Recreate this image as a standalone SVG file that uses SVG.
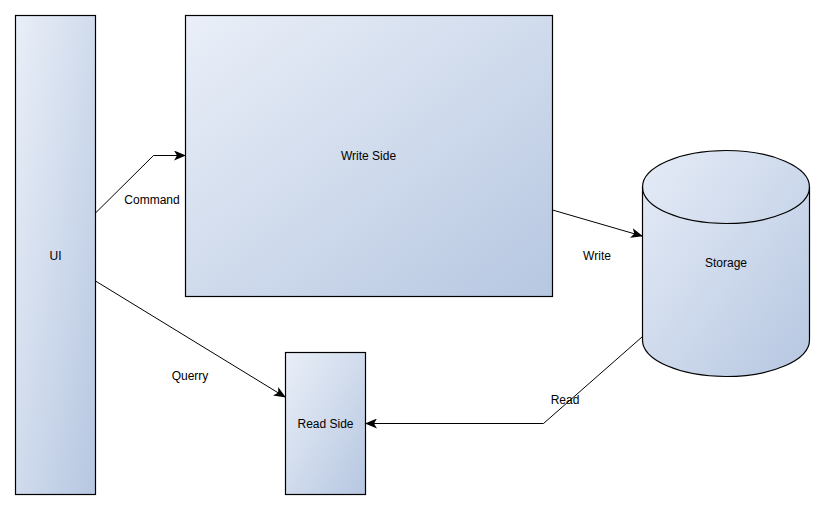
<svg xmlns="http://www.w3.org/2000/svg" width="825" height="510" viewBox="0 0 825 510">
  <defs>
    <linearGradient id="g" x1="0" y1="0" x2="1" y2="1">
      <stop offset="0" stop-color="#eaeff8"/>
      <stop offset="1" stop-color="#b6c7e1"/>
    </linearGradient>
    <linearGradient id="gc" x1="0" y1="0" x2="1" y2="1">
      <stop offset="0" stop-color="#e6ecf7"/>
      <stop offset="1" stop-color="#b6c7e1"/>
    </linearGradient>
    <marker id="arr" viewBox="0 0 12 10" refX="11" refY="5" markerWidth="12" markerHeight="10" markerUnits="userSpaceOnUse" orient="auto">
      <path d="M0,0 L12,5 L0,10 L3,5 Z" fill="#000"/>
    </marker>
    <style>
      .node { fill: url(#g); stroke: #000; stroke-width: 1.2; }
      .cyl { fill: url(#gc); stroke: #000; stroke-width: 1.2; }
      .edge { fill: none; stroke: #000; stroke-width: 1; marker-end: url(#arr); }
      text { font-family: "Liberation Sans", Arial, sans-serif; font-size: 12px; fill: #000; }
      .c { text-anchor: middle; }
    </style>
  </defs>
  <rect width="825" height="510" fill="#fff"/>
  <g id="ui">
    <rect class="node" x="15.5" y="15.5" width="80" height="479"/>
    <text class="c" x="55.5" y="260">UI</text>
  </g>
  <g id="write-side">
    <rect class="node" x="185.5" y="15.5" width="367" height="281"/>
    <text class="c" x="368.5" y="160">Write Side</text>
  </g>
  <g id="storage">
    <path class="cyl" d="M642.5,187 A83.5,36.5 0 0 1 809.5,187 L809.5,340 A83.5,36.5 0 0 1 642.5,340 Z"/>
    <path fill="none" stroke="#000" stroke-width="1.2" d="M642.5,187 A83.5,36.5 0 0 0 809.5,187"/>
    <text class="c" x="726" y="267">Storage</text>
  </g>
  <g id="read-side">
    <rect class="node" x="285.5" y="352.5" width="80" height="142"/>
    <text class="c" x="325.5" y="428">Read Side</text>
  </g>
  <g id="connectors">
    <path class="edge" d="M95.5,213 L153.5,155.5 L185,155.5"/>
    <path class="edge" d="M552.5,210 L642,236"/>
    <path class="edge" d="M95.5,281 L285,397"/>
    <path class="edge" d="M642,337 L543.5,423.5 L366,423.5"/>
    <text class="c" x="152" y="204">Command</text>
    <text class="c" x="597" y="260">Write</text>
    <text class="c" x="190" y="380">Querry</text>
    <text class="c" x="565" y="404">Read</text>
  </g>
</svg>
